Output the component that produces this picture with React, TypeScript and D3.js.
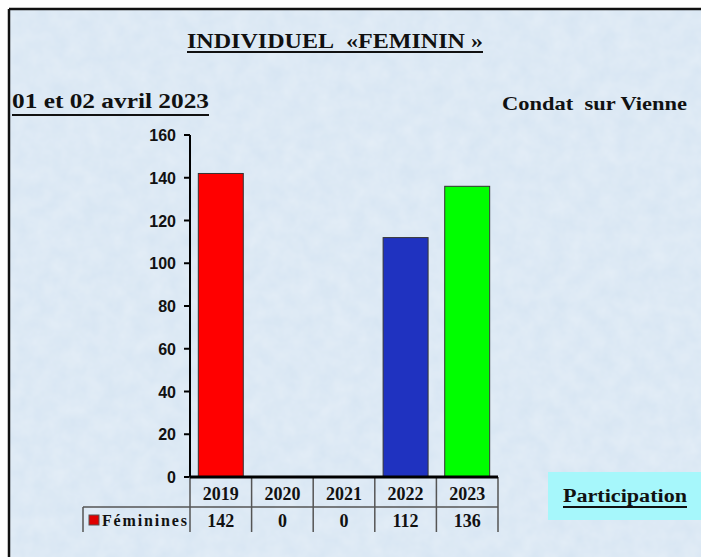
import React from "react";
import * as d3 from "d3";

const years = ["2019", "2020", "2021", "2022", "2023"];
const feminines = [142, 0, 0, 112, 136];
const barColors = ["#ff0000", "#ff0000", "#ff0000", "#1f32c0", "#00ff00"];
const yTicks = [0, 20, 40, 60, 80, 100, 120, 140, 160];
const seriesName = "Féminines";
const title = "INDIVIDUEL\u00a0\u00a0«FEMININ\u00a0»";
const dateText = "01 et 02 avril 2023";
const placeText = "Condat\u00a0\u00a0sur Vienne";
const tagText = "Participation";

export default function App() {
  const W = 701, H = 557;
  const x = d3.scaleBand<string>().domain(years).range([190, 498]).paddingInner(0.27).paddingOuter(0.135);
  const y = d3.scaleLinear().domain([0, 160]).range([477, 135]);
  const step = x.step();
  const colEdges = years.map((yr) => (x(yr) as number) - step * 0.135);
  const tableTop = 477, rowMid = 507, tableBottom = 532;
  const serif = "'Liberation Serif', 'Times New Roman', serif";
  const sans = "'Liberation Sans', Arial, sans-serif";

  return (
    <svg width={W} height={H} style={{ position: "absolute", left: 0, top: 0 }}>
      <defs>
        <filter id="tex" x="0" y="0" width="100%" height="100%">
          <feTurbulence type="fractalNoise" baseFrequency="0.06" numOctaves="3" seed="3" result="n" />
          <feColorMatrix type="matrix" values="0 0 0 0 1  0 0 0 0 1  0 0 0 0 1  0 0 0 0.35 -0.05" />
        </filter>
      </defs>
      <rect x={0} y={0} width={W} height={H} fill="#ffffff" />
      <rect x={9} y={9} width={W} height={H} fill="#d8e6f3" />
      <rect x={9} y={9} width={W} height={H} filter="url(#tex)" />
      <line x1={9} y1={9} x2={W} y2={9} stroke="#111" strokeWidth={2.5} />
      <line x1={9} y1={9} x2={9} y2={H} stroke="#111" strokeWidth={2.5} />

      {/* Title */}
      <text x={187} y={48} fontFamily={serif} fontWeight="bold" fontSize={21} fill="#111" textLength={296} lengthAdjust="spacingAndGlyphs">{title}</text>
      <line x1={187} y1={52} x2={483} y2={52} stroke="#111" strokeWidth={2} />
      <text x={12} y={108} fontFamily={serif} fontWeight="bold" fontSize={20} fill="#111" textLength={197} lengthAdjust="spacingAndGlyphs">{dateText}</text>
      <line x1={12} y1={115} x2={209} y2={115} stroke="#111" strokeWidth={2} />
      <text x={502} y={110} fontFamily={serif} fontWeight="bold" fontSize={19} fill="#111" textLength={185} lengthAdjust="spacingAndGlyphs">{placeText}</text>

      {/* Bars */}
      {years.map((yr, i) => (
        feminines[i] > 0 ? (
          <rect key={yr} x={x(yr)} y={y(feminines[i])} width={x.bandwidth()} height={y(0) - y(feminines[i])}
            fill={barColors[i]} stroke="#333" strokeWidth={1} />
        ) : null
      ))}

      {/* Y axis */}
      <line x1={190} y1={y(160)} x2={190} y2={y(0)} stroke="#000" strokeWidth={2} />
      {yTicks.map((t) => (
        <g key={t}>
          <line x1={184} x2={190} y1={y(t)} y2={y(t)} stroke="#000" strokeWidth={2} />
          <text x={176} y={y(t) + 6} textAnchor="end" fontFamily={sans} fontWeight="bold" fontSize={16} fill="#111">{t}</text>
        </g>
      ))}

      {/* Data table */}
      {colEdges.map((cx, i) => (
        <line key={"v" + i} x1={cx} x2={cx} y1={tableTop} y2={tableBottom} stroke="#555" strokeWidth={1.5} />
      ))}
      <line x1={498} x2={498} y1={tableTop} y2={tableBottom} stroke="#555" strokeWidth={1.5} />
      <line x1={83} x2={498} y1={rowMid} y2={rowMid} stroke="#555" strokeWidth={1.5} />
      <line x1={83} x2={83} y1={rowMid} y2={tableBottom} stroke="#555" strokeWidth={1.5} />
      <line x1={190} x2={498} y1={477} y2={477} stroke="#000" strokeWidth={3} />
      {years.map((yr, i) => (
        <g key={"t" + yr}>
          <text x={(x(yr) as number) + x.bandwidth() / 2} y={500} textAnchor="middle" fontFamily={serif} fontWeight="bold" fontSize={18} fill="#111">{yr}</text>
          <text x={(x(yr) as number) + x.bandwidth() / 2} y={527} textAnchor="middle" fontFamily={serif} fontWeight="bold" fontSize={18} fill="#111">{feminines[i]}</text>
        </g>
      ))}
      <rect x={89} y={515} width={10} height={10} fill="#e00000" stroke="#555" strokeWidth={1} />
      <text x={102} y={526} fontFamily={serif} fontWeight="bold" fontSize={16} fill="#111" textLength={85} lengthAdjust="spacing">{seriesName}</text>

      {/* Participation box */}
      <rect x={548} y={472} width={153} height={48} fill="#a6f7fb" />
      <text x={563} y={502} fontFamily={serif} fontWeight="bold" fontSize={18} fill="#111" textLength={124} lengthAdjust="spacingAndGlyphs">{tagText}</text>
      <line x1={563} y1={507} x2={687} y2={507} stroke="#111" strokeWidth={2} />
    </svg>
  );
}
